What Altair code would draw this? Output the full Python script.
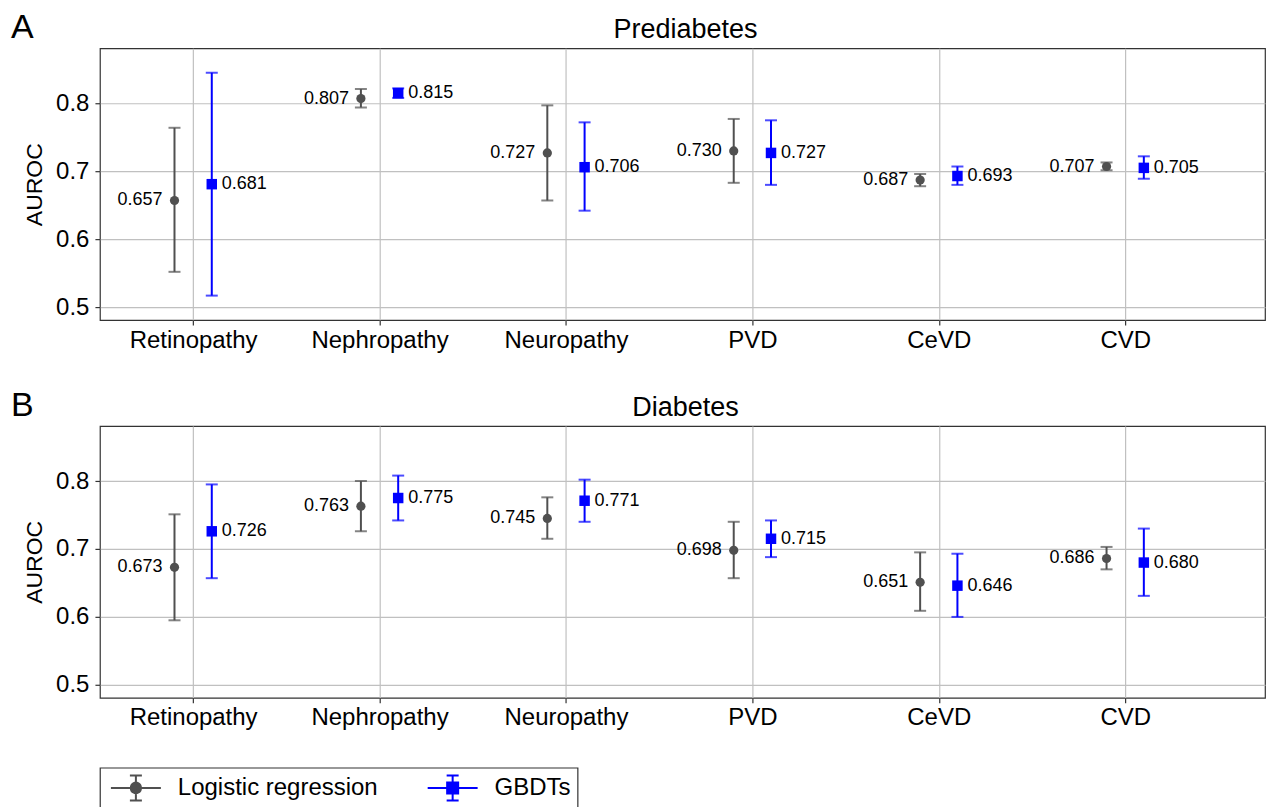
import json
import altair as alt
import pandas as pd

FONT = "Liberation Sans"

CATEGORIES = ["Retinopathy", "Nephropathy", "Neuropathy", "PVD", "CeVD", "CVD"]
SERIES = ["Logistic regression", "GBDTs"]
COLORS = ["#505050", "#0000ff"]

# Panel A: Prediabetes
PRE_LR_AUC = [0.657, 0.807, 0.727, 0.730, 0.687, 0.707]
PRE_LR_LO = [0.552, 0.794, 0.657, 0.683, 0.678, 0.7015]
PRE_LR_HI = [0.764, 0.821, 0.797, 0.777, 0.696, 0.713]
PRE_GB_AUC = [0.681, 0.815, 0.706, 0.727, 0.693, 0.705]
PRE_GB_LO = [0.517, 0.808, 0.642, 0.680, 0.680, 0.689]
PRE_GB_HI = [0.845, 0.822, 0.772, 0.775, 0.707, 0.722]

# Panel B: Diabetes
DIA_LR_AUC = [0.673, 0.763, 0.745, 0.698, 0.651, 0.686]
DIA_LR_LO = [0.595, 0.726, 0.715, 0.657, 0.609, 0.670]
DIA_LR_HI = [0.751, 0.800, 0.776, 0.740, 0.695, 0.703]
DIA_GB_AUC = [0.726, 0.775, 0.771, 0.715, 0.646, 0.680]
DIA_GB_LO = [0.657, 0.742, 0.740, 0.688, 0.600, 0.631]
DIA_GB_HI = [0.795, 0.808, 0.802, 0.742, 0.693, 0.730]

Y_TICKS = [0.5, 0.6, 0.7, 0.8]

# legend glyphs: line + error bar + marker (symbol box is 26px, glyph drawn wider)
PATH_LR = ("M-0.692,0H3.154M1.231,-0.962V0.962M0.769,-0.962H1.692M0.769,0.962H1.692"
           "M1.615,0A0.385,0.385,0,1,1,0.846,0A0.385,0.385,0,1,1,1.615,0Z")
PATH_GB = ("M-0.692,0H3.154M1.231,-0.962V0.962M0.769,-0.962H1.692M0.769,0.962H1.692"
           "M0.808,-0.423H1.654V0.423H0.808Z")


def make_df(lr_auc, lr_lo, lr_hi, gb_auc, gb_lo, gb_hi):
    rows = []
    for i, c in enumerate(CATEGORIES):
        rows.append(dict(idx=i, category=c, series=SERIES[0], auc=lr_auc[i], lo=lr_lo[i], hi=lr_hi[i]))
        rows.append(dict(idx=i, category=c, series=SERIES[1], auc=gb_auc[i], lo=gb_lo[i], hi=gb_hi[i]))
    return pd.DataFrame(rows)


W, H = 1166, 272
label_expr = json.dumps(CATEGORIES) + "[datum.value]"

# marks colour scale (listed in reverse order so it stays separate from the legend scales)
color_scale = alt.Scale(domain=SERIES[::-1], range=COLORS[::-1])


def panel(df, title, letter, with_legend=False):
    base = alt.Chart(df).transform_calculate(
        xpos="datum.idx + (datum.series === 'GBDTs' ? 0.1 : -0.1)"
    )
    x = alt.X(
        "xpos:Q",
        scale=alt.Scale(domain=[-0.5, 5.75], nice=False, zero=False),
        axis=alt.Axis(values=list(range(len(CATEGORIES))), labelExpr=label_expr, title="",
                      grid=True, labelFontSize=24, tickSize=5, labelPadding=3),
    )
    yaxis = alt.Axis(values=Y_TICKS, format=".1f", title="AUROC", grid=True,
                     labelFontSize=24, titleFontSize=23, tickSize=5, labelPadding=6,
                     titlePadding=9)
    yscale = alt.Scale(domain=[0.481, 0.881], nice=False, zero=False)
    color = alt.Color("series:N", scale=color_scale, legend=None)

    rules = base.mark_rule(strokeWidth=2).encode(
        x=x, y=alt.Y("lo:Q", scale=yscale, axis=yaxis), y2="hi:Q", color=color)
    cap_lo = base.mark_tick(orient="horizontal", size=12, thickness=2).encode(
        x=x, y=alt.Y("lo:Q", scale=yscale, axis=yaxis), color=color)
    cap_hi = base.mark_tick(orient="horizontal", size=12, thickness=2).encode(
        x=x, y=alt.Y("hi:Q", scale=yscale, axis=yaxis), color=color)
    pts_lr = base.transform_filter(alt.datum.series == SERIES[0]).mark_point(
        filled=True, shape="circle", size=85, opacity=1).encode(
        x=x, y=alt.Y("auc:Q", scale=yscale, axis=yaxis), color=color)
    pts_gb = base.transform_filter(alt.datum.series == SERIES[1]).mark_point(
        filled=True, shape="square", size=110, opacity=1).encode(
        x=x, y=alt.Y("auc:Q", scale=yscale, axis=yaxis), color=color)
    txt_lr = base.transform_filter(alt.datum.series == SERIES[0]).mark_text(
        align="right", dx=-12, fontSize=18, font=FONT, color="black").encode(
        x=x, y=alt.Y("auc:Q", scale=yscale, axis=yaxis), text=alt.Text("auc:Q", format=".3f"))
    txt_gb = base.transform_filter(alt.datum.series == SERIES[1]).mark_text(
        align="left", dx=10, fontSize=18, font=FONT, color="black").encode(
        x=x, y=alt.Y("auc:Q", scale=yscale, axis=yaxis), text=alt.Text("auc:Q", format=".3f"))
    head = alt.Chart(pd.DataFrame({"letter": [letter], "title": [title]}))
    let = head.mark_text(
        align="left", baseline="alphabetic", fontSize=34, font=FONT, color="black").encode(
        x=alt.value(-89), y=alt.value(-10), text="letter:N")
    ttl = head.mark_text(
        align="center", baseline="alphabetic", fontSize=27, font=FONT, color="black").encode(
        x=alt.value(W / 2 + 3), y=alt.value(-10), text="title:N")

    layers = [rules, cap_lo, cap_hi, pts_lr, pts_gb, txt_lr, txt_gb, let, ttl]
    if with_legend:
        leg = alt.Legend(title=None, orient="none", legendX=0, legendY=720,
                         direction="horizontal", columns=2)
        legend_layer = alt.Chart(pd.DataFrame({"series": SERIES})).transform_filter(
            "false").mark_point(filled=True, strokeWidth=2, opacity=1).encode(
            fill=alt.Fill("series:N", scale=alt.Scale(domain=SERIES, range=COLORS), legend=leg),
            stroke=alt.Stroke("series:N", scale=alt.Scale(domain=SERIES, range=COLORS), legend=leg),
            shape=alt.Shape("series:N", scale=alt.Scale(domain=SERIES, range=[PATH_LR, PATH_GB]), legend=leg),
        )
        layers.append(legend_layer)

    return alt.layer(*layers).properties(width=W, height=H)


df_a = make_df(PRE_LR_AUC, PRE_LR_LO, PRE_LR_HI, PRE_GB_AUC, PRE_GB_LO, PRE_GB_HI)
df_b = make_df(DIA_LR_AUC, DIA_LR_LO, DIA_LR_HI, DIA_GB_AUC, DIA_GB_LO, DIA_GB_HI)

chart = alt.vconcat(
    panel(df_a, "Prediabetes", "A"),
    panel(df_b, "Diabetes", "B", with_legend=True),
    spacing=35,
).properties(
    padding={"left": 2, "top": 2, "right": 0, "bottom": 0},
    background="white",
).configure_view(
    stroke="#333333", strokeWidth=1.2,
).configure_axis(
    labelFont=FONT, titleFont=FONT, labelColor="black", titleColor="black",
    titleFontWeight="normal", gridColor="#c0c0c0", gridWidth=1.2, domain=False,
    tickColor="#333333", tickWidth=1.2,
).configure_legend(
    strokeColor="#333333", strokeWidth=1.2, padding=6, cornerRadius=0,
    fillColor="white", labelFont=FONT, labelFontSize=24, labelColor="black",
    labelLimit=400, symbolSize=676, symbolStrokeWidth=2, labelOffset=44,
    columnPadding=44,
)

chart.save("out.html", embed_options={"renderer": "svg", "actions": False})
